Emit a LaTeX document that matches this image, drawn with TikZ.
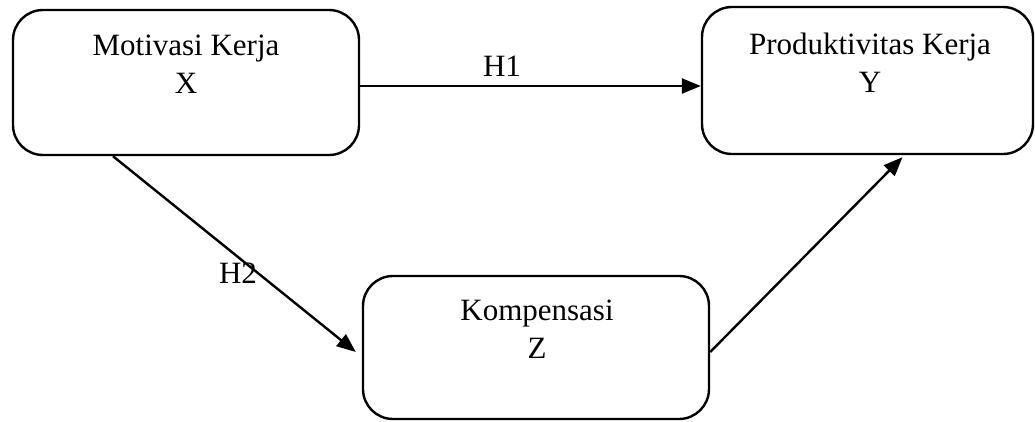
\documentclass[tikz,border=0pt]{standalone}
\usepackage{fontspec}
\setmainfont{Liberation Serif}
\usetikzlibrary{arrows.meta,calc}
\tikzset{
  box/.style={draw=black, line width=2.4pt, rounded corners=30pt, inner sep=0pt},
  lbl/.style={font=\fontsize{31}{38}\selectfont, align=center, anchor=base, inner sep=0pt},
  hlbl/.style={font=\fontsize{31}{38}\selectfont, anchor=base, inner sep=0pt},
  arr/.style={line width=2.4pt, -{Triangle[length=19pt,width=15pt]}}
}
\begin{document}
\begin{tikzpicture}[x=1pt,y=-1pt]
\useasboundingbox (0,0) rectangle (1035,421);
\node[box, minimum width=346pt, minimum height=145pt] (X) at (186,82.5) {};
\node[box, minimum width=331pt, minimum height=147pt] (Y) at (867.5,80.5) {};
\node[box, minimum width=346pt, minimum height=143pt] (Z) at (536,347.5) {};
\node[lbl] (xt) at (186,93) {Motivasi Kerja\\X};
\node[lbl] (yt) at (870,92) {Produktivitas Kerja\\Y};
\node[lbl] (zt) at (537,358) {Kompensasi\\Z};
\node[hlbl] (h1) at (502,76) {H1};
\node[hlbl] (h2) at (238,283) {H2};
\draw[arr] ([yshift=-3.5pt]X.east) -- ([yshift=-3.5pt]X.east -| Y.west);
\draw[arr] ([xshift=-73pt]X.south) -- ([xshift=-6pt,yshift=-4.5pt]Z.west);
\draw[arr] ([yshift=-4.5pt]Z.east) -- ([xshift=35pt,yshift=-2pt]Y.south);
\end{tikzpicture}
\end{document}
